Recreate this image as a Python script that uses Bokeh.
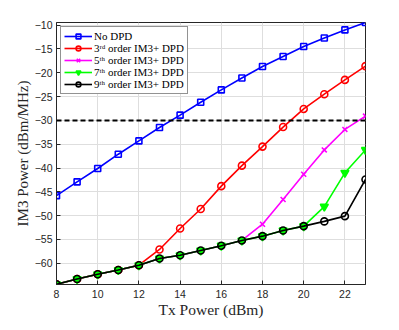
from bokeh.plotting import figure
from bokeh.models import Range1d, FixedTicker, Legend, LegendItem, Span
from bokeh.embed import file_html
from bokeh.resources import INLINE

tx_power = [8, 9, 10, 11, 12, 13, 14, 15, 16, 17, 18, 19, 20, 21, 22, 23]
no_dpd = [-45.8, -42.9, -40.1, -37.1, -34.3, -31.5, -28.9, -26.2, -23.6, -21.1, -18.7, -16.6, -14.5, -12.7, -11.0, -9.45]
order3 = [-64.4, -63.3, -62.3, -61.4, -60.4, -57.1, -52.7, -48.6, -43.8, -39.5, -35.5, -31.4, -27.6, -24.5, -21.5, -18.6]
order5 = [-64.4, -63.3, -62.3, -61.4, -60.4, -59.0, -58.3, -57.3, -56.3, -55.2, -51.8, -46.6, -41.3, -36.2, -31.9, -29.1]
order7 = [-64.4, -63.3, -62.3, -61.4, -60.4, -59.0, -58.3, -57.3, -56.3, -55.2, -54.3, -53.1, -52.2, -48.1, -41.0, -36.2]
order9 = [-64.4, -63.3, -62.3, -61.4, -60.4, -59.0, -58.3, -57.3, -56.3, -55.2, -54.3, -53.1, -52.2, -51.2, -50.1, -42.4]
limit_level = -30
x_ticks = [8, 10, 12, 14, 16, 18, 20, 22]
y_ticks = [-60, -55, -50, -45, -40, -35, -30, -25, -20, -15, -10]

labels = ["No DPD", "3ʳᵈ order IM3+ DPD", "5ᵗʰ order IM3+ DPD",
          "7ᵗʰ order IM3+ DPD", "9ᵗʰ order IM3+ DPD"]

AX = "#262626"
p = figure(width=391, height=322, output_backend="svg", toolbar_location=None,
           x_range=Range1d(8, 23), y_range=Range1d(-64.45, -9.45),
           min_border_left=56, min_border_right=26, min_border_top=22, min_border_bottom=38)
p.outline_line_color = AX
p.outline_line_width = 1
p.background_fill_color = "white"

for ax in (p.xaxis[0], p.yaxis[0]):
    ax.axis_line_color = AX
    ax.major_tick_line_color = AX
    ax.major_tick_in = 4
    ax.major_tick_out = 0
    ax.minor_tick_line_color = None
    ax.major_label_text_font = "Liberation Sans"
    ax.major_label_text_font_size = "10.5px"
    ax.major_label_text_color = AX
    ax.axis_label_text_font = "Liberation Serif"
    ax.axis_label_text_font_style = "normal"
    ax.axis_label_text_color = AX
p.xaxis[0].axis_label_text_font_size = "15.5px"
p.yaxis[0].axis_label_text_font_size = "15px"
p.xaxis[0].ticker = FixedTicker(ticks=x_ticks)
p.yaxis[0].ticker = FixedTicker(ticks=y_ticks)
p.xaxis[0].axis_label = "Tx Power (dBm)"
p.yaxis[0].axis_label = "IM3 Power (dBm/MHz)"
p.xaxis[0].axis_label_standoff = 0
p.yaxis[0].axis_label_standoff = 1
p.xaxis[0].major_label_standoff = 5
p.yaxis[0].major_label_standoff = 4

p.xgrid.ticker = FixedTicker(ticks=x_ticks)
p.ygrid.ticker = FixedTicker(ticks=y_ticks)
p.grid.grid_line_color = "#dedede"
p.grid.grid_line_width = 1

p.add_layout(Span(location=limit_level, dimension="width", line_color="black",
                  line_width=2, line_dash="5 3"))

series = [
    (no_dpd, "#0000ff", "square", 6),
    (order3, "#ff0000", "circle", 7),
    (order5, "#ff00ff", "x", 7),
    (order7, "#00ff00", "inverted_triangle", 8),
    (order9, "black", "circle", 7),
]
items = []
for (ys, col, mk, sz), lab in zip(series, labels):
    ln = p.line(tx_power, ys, line_color=col, line_width=1.6)
    if mk == "inverted_triangle":
        sc = p.scatter(tx_power, ys, marker=mk, size=sz, line_color=col, fill_color=col, line_width=1.5)
    else:
        sc = p.scatter(tx_power, ys, marker=mk, size=sz, line_color=col, fill_alpha=0, line_width=1.6)
    items.append(LegendItem(label=lab, renderers=[ln, sc]))

leg = Legend(items=items, location="top_left", margin=4, padding=3, spacing=0,
             label_height=12, glyph_height=12, glyph_width=28, label_standoff=2,
             label_text_font="Liberation Serif", label_text_font_size="11px",
             label_text_color="black", border_line_color=AX, border_line_width=1,
             background_fill_color="white", background_fill_alpha=1)
p.add_layout(leg, "center")

open("out.html", "w").write(file_html(p, INLINE))
